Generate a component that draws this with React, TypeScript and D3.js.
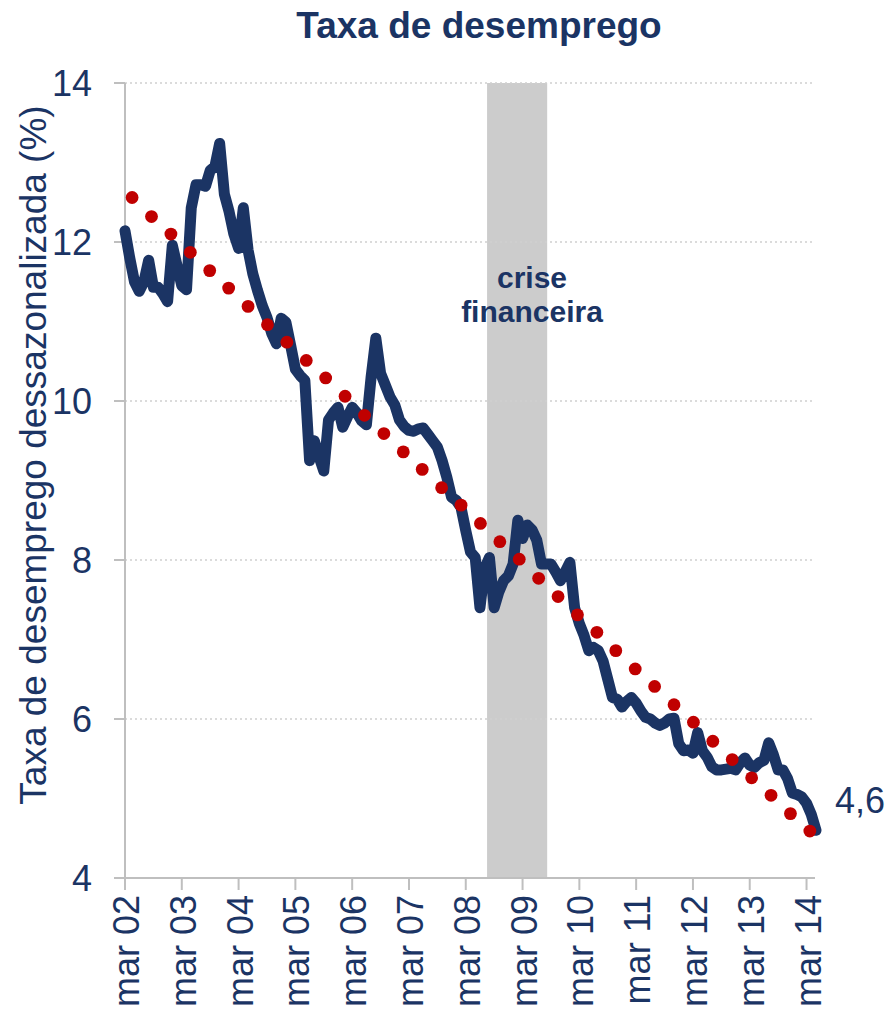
import React from "react";
import * as d3 from "d3";

// Monthly unemployment rate, mar 02 (index 0) onwards
const unemployment: number[] = [
  12.14, 11.8, 11.5, 11.38, 11.5, 11.77, 11.43, 11.43, 11.35, 11.25,
  11.96, 11.7, 11.45, 11.4, 12.43, 12.72, 12.72, 12.7, 12.9, 12.95,
  13.24, 12.6, 12.38, 12.1, 11.92, 12.43, 11.9, 11.6, 11.39, 11.2,
  11.05, 10.85, 10.72, 11.04, 10.99, 10.7, 10.4, 10.32, 10.26, 9.25,
  9.5, 9.3, 9.12, 9.76, 9.85, 9.92, 9.67, 9.8, 9.92, 9.85,
  9.75, 9.7, 10.3, 10.79, 10.35, 10.2, 10.05, 9.95, 9.76, 9.68,
  9.63, 9.62, 9.65, 9.66, 9.58, 9.5, 9.42, 9.25, 9.04, 8.79,
  8.75, 8.66, 8.37, 8.1, 8.03, 7.4, 7.9, 8.03, 7.4, 7.6,
  7.74, 7.8, 7.95, 8.5, 8.27, 8.44, 8.38, 8.25, 7.95, 7.95,
  7.95, 7.85, 7.74, 7.85, 7.97, 7.4, 7.2, 7.05, 6.86, 6.9,
  6.86, 6.73, 6.5, 6.27, 6.25, 6.15, 6.22, 6.27, 6.2, 6.1,
  6.02, 6.0, 5.95, 5.92, 5.95, 6.0, 6.01, 5.69, 5.6, 5.61,
  5.57, 5.83, 5.6, 5.52, 5.4, 5.36, 5.36, 5.37, 5.38, 5.36,
  5.45, 5.51, 5.42, 5.39, 5.45, 5.48, 5.7, 5.55, 5.36, 5.36,
  5.25, 5.07, 5.05, 5.02, 4.94, 4.8, 4.6,
];

// Trend (dotted red) – month position and value
const trendMonths: number[] = [
  1.5, 5.6, 9.7, 13.8, 17.9, 21.9, 26.0, 30.1, 34.2, 38.3, 42.4, 46.5,
  50.6, 54.7, 58.8, 62.8, 66.9, 71.0, 75.1, 79.2, 83.3, 87.4, 91.5, 95.6,
  99.7, 103.7, 107.8, 111.9, 116.0, 120.1, 124.2, 128.3, 132.4, 136.5, 140.6, 144.7,
];
const trendValues: number[] = [
  12.56, 12.32, 12.1, 11.87, 11.64, 11.42, 11.19, 10.96, 10.74, 10.51, 10.29, 10.06,
  9.82, 9.59, 9.36, 9.14, 8.91, 8.69, 8.46, 8.23, 8.01, 7.77, 7.54, 7.31,
  7.09, 6.86, 6.63, 6.41, 6.18, 5.96, 5.72, 5.49, 5.26, 5.04, 4.81, 4.59,
];

const tickLabels: string[] = [
  "mar 02", "mar 03", "mar 04", "mar 05", "mar 06", "mar 07", "mar 08",
  "mar 09", "mar 10", "mar 11", "mar 12", "mar 13", "mar 14",
];
const yTicks: number[] = [4, 6, 8, 10, 12, 14];
const crisisRange: number[] = [76.5, 89.2];

const NAVY = "#1b3464";
const RED = "#c00000";
const AXIS = "#bfbfbf";
const FONT = "'Liberation Sans', Arial, sans-serif";

export default function App() {
  const x = d3.scaleLinear().domain([0, 146]).range([125, 816]);
  const y = d3.scaleLinear().domain([4, 14]).range([878, 83]);
  const line = d3
    .line<number>()
    .x((_, i) => x(i))
    .y((d) => y(d))
    .curve(d3.curveLinear);
  const axisEnd = 815;
  const last = unemployment[unemployment.length - 1];

  return (
    <svg
      width={890}
      height={1018}
      style={{ position: "absolute", left: 0, top: 0, background: "#fff" }}
      fontFamily={FONT}
    >
      {/* crisis band */}
      <rect
        x={x(crisisRange[0])}
        y={y(14)}
        width={x(crisisRange[1]) - x(crisisRange[0])}
        height={y(4) - y(14)}
        fill="#cccccc"
      />
      {/* gridlines */}
      {yTicks
        .filter((t) => t !== 4)
        .map((t) => (
          <line
            key={"g" + t}
            x1={125}
            x2={axisEnd}
            y1={y(t)}
            y2={y(t)}
            stroke="#d0d0d0"
            strokeWidth={1.5}
            strokeDasharray="2,3"
          />
        ))}
      {/* y axis */}
      <line x1={125} x2={125} y1={y(14)} y2={y(4) + 1} stroke={AXIS} strokeWidth={2} />
      {yTicks.map((t) => (
        <g key={"y" + t}>
          <line x1={114} x2={125} y1={y(t)} y2={y(t)} stroke={AXIS} strokeWidth={2} />
          <text
            x={92}
            y={y(t)}
            dy="0.36em"
            textAnchor="end"
            fontSize={36}
            fill={NAVY}
          >
            {t}
          </text>
        </g>
      ))}
      {/* x axis */}
      <line x1={124} x2={axisEnd} y1={y(4)} y2={y(4)} stroke={AXIS} strokeWidth={2} />
      {tickLabels.map((lab, i) => {
        const xx = x(i * 12);
        return (
          <g key={lab}>
            <line x1={xx} x2={xx} y1={y(4)} y2={y(4) + 12} stroke={AXIS} strokeWidth={2} />
            <text
              transform={`translate(${xx + 1},${y(4) + 17}) rotate(-90)`}
              textAnchor="end"
              dy="0.36em"
              fontSize={36}
              fill={NAVY}
            >
              {lab}
            </text>
          </g>
        );
      })}
      {/* crisis label */}
      <text x={532} y={288} textAnchor="middle" fontSize={30} fontWeight="bold" fill={NAVY}>
        crise
      </text>
      <text x={532} y={322} textAnchor="middle" fontSize={30} fontWeight="bold" fill={NAVY}>
        financeira
      </text>
      {/* unemployment line */}
      <path
        d={line(unemployment) || ""}
        fill="none"
        stroke={NAVY}
        strokeWidth={11}
        strokeLinejoin="round"
        strokeLinecap="round"
      />
      {/* trend dots */}
      {trendValues.map((v, i) => (
        <circle key={"d" + i} cx={x(trendMonths[i])} cy={y(v)} r={6.4} fill={RED} />
      ))}
      {/* end label */}
      <text x={835} y={800} dy="0.36em" fontSize={36} fill={NAVY}>
        {String(last).replace(".", ",")}
      </text>
      {/* title */}
      <text x={479} y={38} textAnchor="middle" fontSize={37} fontWeight="bold" fill={NAVY}>
        Taxa de desemprego
      </text>
      {/* y axis title */}
      <text
        transform={`translate(33,${455}) rotate(-90)`}
        textAnchor="middle"
        dy="0.36em"
        fontSize={37}
        fill={NAVY}
      >
        Taxa de desemprego dessazonalizada (%)
      </text>
    </svg>
  );
}
